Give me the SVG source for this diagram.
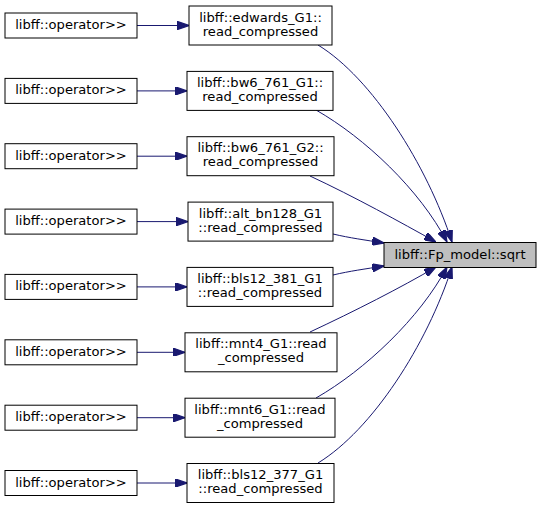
<svg xmlns="http://www.w3.org/2000/svg" width="541" height="509" viewBox="0 0 541 509">
<style>
text{font-family:"DejaVu Sans",sans-serif;font-size:13.1px;fill:#000;text-anchor:middle}
.n{fill:#fff;stroke:#000;stroke-width:1}
.c{fill:#bfbfbf;stroke:#000;stroke-width:1}
.e{fill:none;stroke:#191970;stroke-width:1;marker-end:url(#ah)}
</style>
<defs>
<marker id="ah" viewBox="0 0 10 7" refX="10" refY="3.5" markerWidth="12" markerHeight="8.4" markerUnits="userSpaceOnUse" orient="auto">
<path d="M0,0 L10,3.5 L0,7 z" fill="#191970" stroke="#191970"/>
</marker>
</defs>
<rect width="541" height="509" fill="#fff"/>
<g id="connectors">
<path class="e" d="M137,25.5 H189"/>
<path class="e" d="M137,90.9 H187"/>
<path class="e" d="M137,156.2 H187"/>
<path class="e" d="M137,221.6 H188"/>
<path class="e" d="M137,286.9 H187"/>
<path class="e" d="M137,352.3 H185"/>
<path class="e" d="M137,417.7 H185"/>
<path class="e" d="M137,483 H187"/>
<path class="e" d="M318,45 C372,78 427,165 452,242"/>
<path class="e" d="M316,110 C365,138 420,190 447,242"/>
<path class="e" d="M310,176 C355,197 400,222 436,242"/>
<path class="e" d="M333,234 C350,238 365,240 384,243"/>
<path class="e" d="M333,275 C350,271 365,269 384,266"/>
<path class="e" d="M310,332 C355,311 400,288 436,267"/>
<path class="e" d="M316,398 C365,370 420,318 447,267"/>
<path class="e" d="M318,463 C372,430 427,345 452,267"/>
</g>
<g id="center"><rect class="c" x="384" y="242.5" width="152" height="25"/><text x="460" y="258.5">libff::Fp_model::sqrt</text></g>
<g id="op1"><rect class="n" x="5" y="13" width="132" height="25"/><text x="71" y="29">libff::operator&gt;&gt;</text></g>
<g id="op2"><rect class="n" x="5" y="78.4" width="132" height="25"/><text x="71" y="94.4">libff::operator&gt;&gt;</text></g>
<g id="op3"><rect class="n" x="5" y="143.7" width="132" height="25"/><text x="71" y="159.7">libff::operator&gt;&gt;</text></g>
<g id="op4"><rect class="n" x="5" y="209.1" width="132" height="25"/><text x="71" y="225.1">libff::operator&gt;&gt;</text></g>
<g id="op5"><rect class="n" x="5" y="274.4" width="132" height="25"/><text x="71" y="290.4">libff::operator&gt;&gt;</text></g>
<g id="op6"><rect class="n" x="5" y="339.8" width="132" height="25"/><text x="71" y="355.8">libff::operator&gt;&gt;</text></g>
<g id="op7"><rect class="n" x="5" y="405.2" width="132" height="25"/><text x="71" y="421.2">libff::operator&gt;&gt;</text></g>
<g id="op8"><rect class="n" x="5" y="470.5" width="132" height="25"/><text x="71" y="486.5">libff::operator&gt;&gt;</text></g>
<g id="m1"><rect class="n" x="189" y="6" width="143" height="39"/><text x="260.5" y="21.5">libff::edwards_G1::</text><text x="260.5" y="35.5">read_compressed</text></g>
<g id="m2"><rect class="n" x="187" y="71.4" width="146" height="39"/><text x="260" y="86.9">libff::bw6_761_G1::</text><text x="260" y="100.9">read_compressed</text></g>
<g id="m3"><rect class="n" x="187" y="136.7" width="147" height="39"/><text x="260.5" y="152.2">libff::bw6_761_G2::</text><text x="260.5" y="166.2">read_compressed</text></g>
<g id="m4"><rect class="n" x="188" y="202.1" width="145" height="39"/><text x="260.5" y="217.6">libff::alt_bn128_G1</text><text x="260.5" y="231.6">::read_compressed</text></g>
<g id="m5"><rect class="n" x="187" y="267.4" width="146" height="39"/><text x="260" y="282.9">libff::bls12_381_G1</text><text x="260" y="296.9">::read_compressed</text></g>
<g id="m6"><rect class="n" x="185" y="332.8" width="152" height="39"/><text x="261" y="348.3">libff::mnt4_G1::read</text><text x="261" y="362.3">_compressed</text></g>
<g id="m7"><rect class="n" x="185" y="398.2" width="150" height="39"/><text x="260" y="413.7">libff::mnt6_G1::read</text><text x="260" y="427.7">_compressed</text></g>
<g id="m8"><rect class="n" x="187" y="463.5" width="147" height="39"/><text x="260.5" y="479">libff::bls12_377_G1</text><text x="260.5" y="493">::read_compressed</text></g>
</svg>
